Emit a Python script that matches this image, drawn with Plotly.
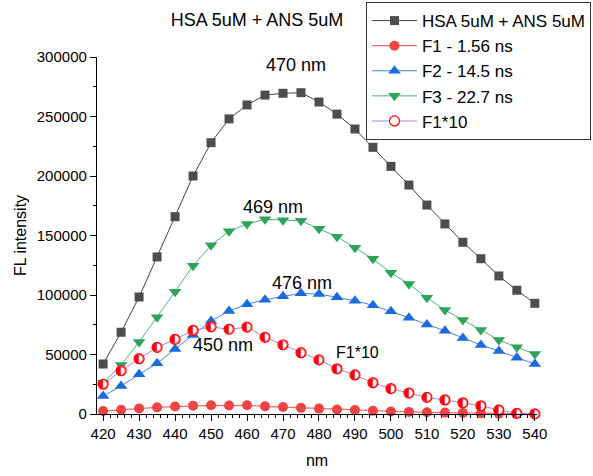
import plotly.graph_objects as go

# Emission wavelength (nm)
wavelength = list(range(420, 545, 5))

# Fluorescence intensity of the full spectrum and the three decomposed components
hsa_ans = [42000, 68700, 98300, 132000, 165800, 200000, 228000, 248000, 259700, 268000,
           269500, 270000, 262200, 252000, 239500, 224100, 208100, 192400, 175600, 159700,
           144300, 130500, 116000, 104000, 93000]
f1 = [2500, 3640, 4650, 5600, 6270, 7020, 7320, 7120, 7300, 6440,
      5820, 5150, 4550, 3800, 3280, 2630, 2130, 1760, 1400, 1180,
      940, 690, 340, 50, 10]
f2 = [15100, 23500, 33300, 42600, 54600, 66400, 78200, 86600, 92200, 96100,
      98900, 101400, 100800, 98200, 95200, 91300, 86300, 80900, 75300, 70000,
      63900, 58000, 52900, 47300, 42000]
f3 = [26000, 41200, 60500, 81300, 102800, 124600, 141800, 153500, 159700, 163600,
      162800, 162400, 155700, 149000, 139700, 130400, 118700, 109200, 97700, 87400,
      79000, 70600, 62200, 56000, 50400]
f1_x10 = [25000, 36400, 46500, 56000, 62700, 70200, 73200, 71200, 73000, 64400,
          58200, 51500, 45500, 38000, 32800, 26300, 21300, 17600, 14000, 11800,
          9400, 6900, 3400, 500, 100]

# Peak labels: (text, wavelength, intensity, font size)
peak_labels = [
    ("470 nm", 473.7, 293300, 18),
    ("469 nm", 467.1, 174200, 18),
    ("476 nm", 475.3, 109800, 18),
    ("450 nm", 453.4, 58000, 18),
    ("F1*10", 490.6, 52000, 16),
]

FONT = "Arial, Liberation Sans, sans-serif"

fig = go.Figure()

fig.add_trace(go.Scatter(
    x=wavelength, y=hsa_ans, name="HSA 5uM + ANS 5uM", mode="lines+markers",
    line=dict(color="#444444", width=1),
    marker=dict(symbol="square", size=9, color="#4d4d4d"),
    cliponaxis=False))
fig.add_trace(go.Scatter(
    x=wavelength, y=f1, name="F1 - 1.56 ns", mode="lines+markers",
    line=dict(color="#f76a6a", width=1.2),
    marker=dict(symbol="circle", size=10, color="#f04444"),
    cliponaxis=False))
fig.add_trace(go.Scatter(
    x=wavelength, y=f2, name="F2 - 14.5 ns", mode="lines+markers",
    line=dict(color="#3f86e6", width=1),
    marker=dict(symbol="triangle-up", size=11, color="#1a6be0"),
    cliponaxis=False))
fig.add_trace(go.Scatter(
    x=wavelength, y=f3, name="F3 - 22.7 ns", mode="lines+markers",
    line=dict(color="#4cb474", width=1),
    marker=dict(symbol="triangle-down", size=11, color="#2ea35c"),
    cliponaxis=False))
fig.add_trace(go.Scatter(
    x=wavelength, y=f1_x10, name="F1*10", mode="lines+markers",
    line=dict(color="#b57ee8", width=1),
    marker=dict(symbol="circle", size=10, color="white",
                line=dict(color="#ff0000", width=1.2)),
    cliponaxis=False))
# half-filled circle glyphs on top of the F1*10 points
fig.add_trace(go.Scatter(
    x=wavelength, y=f1_x10, mode="text", text=["\u25d0"] * len(wavelength),
    textposition="middle center",
    textfont=dict(family="DejaVu Sans", size=12, color="#ff0000"),
    showlegend=False, hoverinfo="skip", cliponaxis=False))

for text, xv, yv, size in peak_labels:
    fig.add_annotation(x=xv, y=yv, xref="x", yref="y", text=text, showarrow=False,
                       font=dict(family=FONT, size=size, color="black"))

axis_common = dict(
    showline=True, linecolor="black", linewidth=1.3, mirror=False,
    showgrid=False, zeroline=False,
    ticks="outside", ticklen=6, tickwidth=1, tickcolor="black",
    tickfont=dict(family=FONT, size=15, color="black"),
)

fig.update_xaxes(
    range=[418.3, 540.6], tick0=420, dtick=10,
    minor=dict(dtick=2, ticks="outside", ticklen=3, tickwidth=1, tickcolor="black"),
    title=dict(text="nm", font=dict(family=FONT, size=16, color="black"), standoff=13),
    **axis_common)
fig.update_yaxes(
    range=[0, 300000], tick0=0, dtick=50000, tickformat="d",
    minor=dict(dtick=25000, ticks="outside", ticklen=3, tickwidth=1, tickcolor="black"),
    title=dict(text="FL intensity", font=dict(family=FONT, size=16, color="black"), standoff=6),
    **axis_common)

fig.update_layout(
    width=593, height=476,
    margin=dict(l=97, r=56, t=57, b=62, autoexpand=False),
    paper_bgcolor="white", plot_bgcolor="white",
    font=dict(family=FONT, color="black"),
    title=dict(text="HSA 5uM + ANS 5uM", x=257 / 593, xanchor="center",
               y=1 - 20 / 476, yanchor="middle", yref="container",
               font=dict(family=FONT, size=18, color="black")),
    legend=dict(x=1.1227, xanchor="right", y=1.154, yanchor="top",
                bordercolor="#333333", borderwidth=1, bgcolor="white",
                font=dict(family=FONT, size=17, color="black"),
                itemwidth=45, tracegroupgap=0),
)

fig.write_html("out.html")
